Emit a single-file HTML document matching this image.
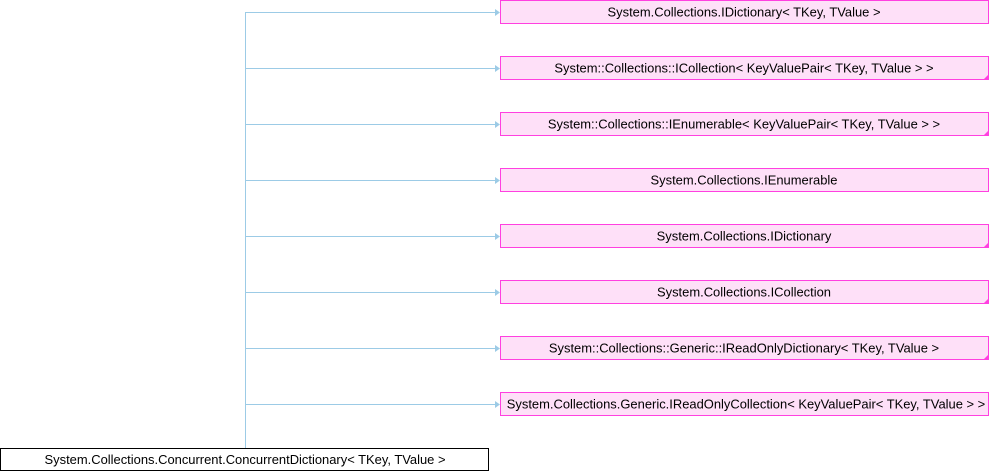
<!DOCTYPE html>
<html><head><style>
html,body{margin:0;padding:0;background:#fff;width:990px;height:472px;overflow:hidden}
text{font-family:"Liberation Sans",Arial,sans-serif;font-size:12.95px}
</style></head><body>
<svg width="990" height="472" xmlns="http://www.w3.org/2000/svg">
<g stroke="#9ccbe6" stroke-width="1" fill="none">
<line x1="245.5" y1="12.5" x2="245.5" y2="448"/>
<line x1="245" y1="12.5" x2="496" y2="12.5"/>
<line x1="245" y1="68.5" x2="496" y2="68.5"/>
<line x1="245" y1="124.5" x2="496" y2="124.5"/>
<line x1="245" y1="180.5" x2="496" y2="180.5"/>
<line x1="245" y1="236.5" x2="496" y2="236.5"/>
<line x1="245" y1="292.5" x2="496" y2="292.5"/>
<line x1="245" y1="348.5" x2="496" y2="348.5"/>
<line x1="245" y1="404.5" x2="496" y2="404.5"/>
</g>
<g fill="#9ccbe6">
<polygon points="495,9 500,12.5 495,16"/><polygon points="495,65 500,68.5 495,72"/>
<polygon points="495,121 500,124.5 495,128"/><polygon points="495,177 500,180.5 495,184"/>
<polygon points="495,233 500,236.5 495,240"/><polygon points="495,289 500,292.5 495,296"/>
<polygon points="495,345 500,348.5 495,352"/><polygon points="495,401 500,404.5 495,408"/>
</g>
<g fill="#fee0f8" stroke="#ff40e0" stroke-width="1">
<rect x="500.5" y="0.5" width="488" height="23"/>
<rect x="500.5" y="56.5" width="488" height="23"/>
<rect x="500.5" y="112.5" width="488" height="23"/>
<rect x="500.5" y="168.5" width="488" height="23"/>
<rect x="500.5" y="224.5" width="488" height="23"/>
<rect x="500.5" y="280.5" width="488" height="23"/>
<rect x="500.5" y="336.5" width="488" height="23"/>
<rect x="500.5" y="392.5" width="488" height="23"/>
</g>
<g fill="#ff40e0">
<polygon points="989,74 989,80 983,80"/>
<polygon points="989,130 989,136 983,136"/>
<polygon points="989,242 989,248 983,248"/>
<polygon points="989,298 989,304 983,304"/>
<polygon points="989,354 989,360 983,360"/>
</g>
<rect x="0.5" y="448.5" width="488" height="22" fill="#fff" stroke="#000"/>
<g fill="#000" text-anchor="middle">
<text x="744" y="16.5">System.Collections.IDictionary&lt; TKey, TValue &gt;</text>
<text x="744" y="72.5">System::Collections::ICollection&lt; KeyValuePair&lt; TKey, TValue &gt; &gt;</text>
<text x="744" y="128.5">System::Collections::IEnumerable&lt; KeyValuePair&lt; TKey, TValue &gt; &gt;</text>
<text x="744" y="184.5">System.Collections.IEnumerable</text>
<text x="744" y="240.5">System.Collections.IDictionary</text>
<text x="744" y="296.5">System.Collections.ICollection</text>
<text x="744" y="352.5">System::Collections::Generic::IReadOnlyDictionary&lt; TKey, TValue &gt;</text>
<text x="746" y="408.5">System.Collections.Generic.IReadOnlyCollection&lt; KeyValuePair&lt; TKey, TValue &gt; &gt;</text>
<text x="245" y="464">System.Collections.Concurrent.ConcurrentDictionary&lt; TKey, TValue &gt;</text>
</g>
</svg>
</body></html>
